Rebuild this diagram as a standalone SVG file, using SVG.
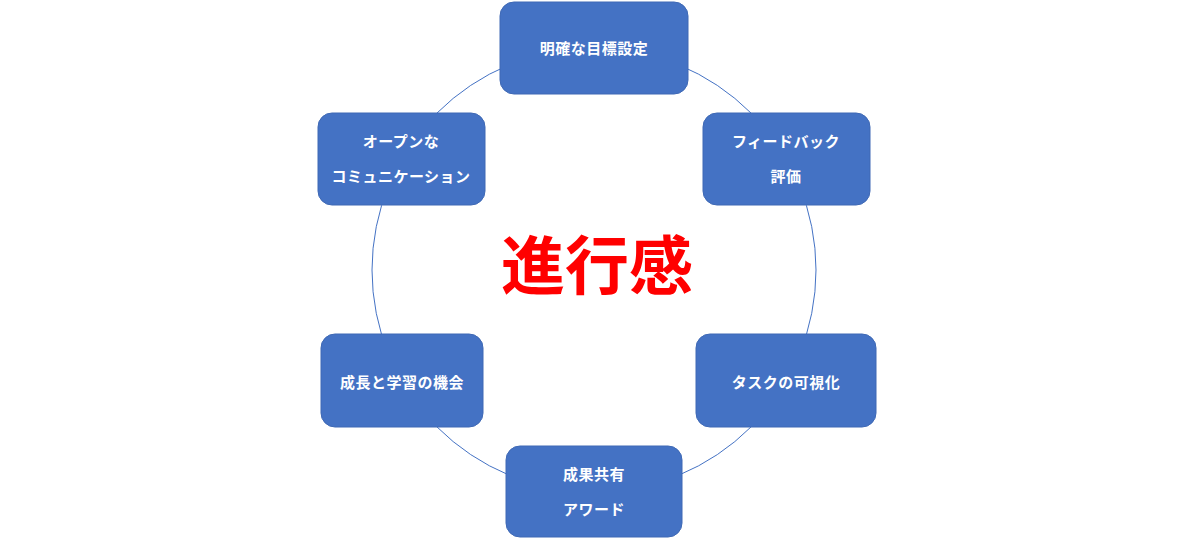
<svg xmlns="http://www.w3.org/2000/svg" width="1200" height="539" viewBox="0 0 1200 539">
<style>
.box{fill:#4472C4;stroke:#3F69B5;stroke-width:1}
.t{fill:#FFFFFF;font-family:"Noto Sans CJK JP","Noto Sans",sans-serif;font-size:15px;font-weight:bold;text-anchor:middle;dominant-baseline:central;letter-spacing:0.5px}
.c{fill:#FF0000;font-family:"Noto Sans CJK JP","Noto Sans",sans-serif;font-size:64px;font-weight:bold;text-anchor:middle}
</style>
<rect width="1200" height="539" fill="#FFFFFF"/>
<g id="connectors">
<circle cx="594" cy="270" r="222" fill="none" stroke="#4472C4" stroke-width="1"/>
</g>
<g id="center"><text class="c" x="597" y="289">進行感</text></g>
<g id="n1"><rect class="box" x="500" y="2" width="188" height="92" rx="14"/><text class="t" x="594" y="47">明確な目標設定</text></g>
<g id="n2"><rect class="box" x="703" y="113" width="167" height="92" rx="14"/><text class="t" x="786" y="140">フィードバック</text><text class="t" x="786" y="175">評価</text></g>
<g id="n3"><rect class="box" x="696" y="334" width="180" height="93" rx="14"/><text class="t" x="786" y="381">タスクの可視化</text></g>
<g id="n4"><rect class="box" x="506" y="446" width="176" height="91" rx="14"/><text class="t" x="594" y="473">成果共有</text><text class="t" x="594" y="508">アワード</text></g>
<g id="n5"><rect class="box" x="321" y="334" width="162" height="93" rx="14"/><text class="t" x="402" y="381">成長と学習の機会</text></g>
<g id="n6"><rect class="box" x="318" y="113" width="167" height="92" rx="14"/><text class="t" x="401" y="140">オープンな</text><text class="t" x="401" y="175">コミュニケーション</text></g>
</svg>
